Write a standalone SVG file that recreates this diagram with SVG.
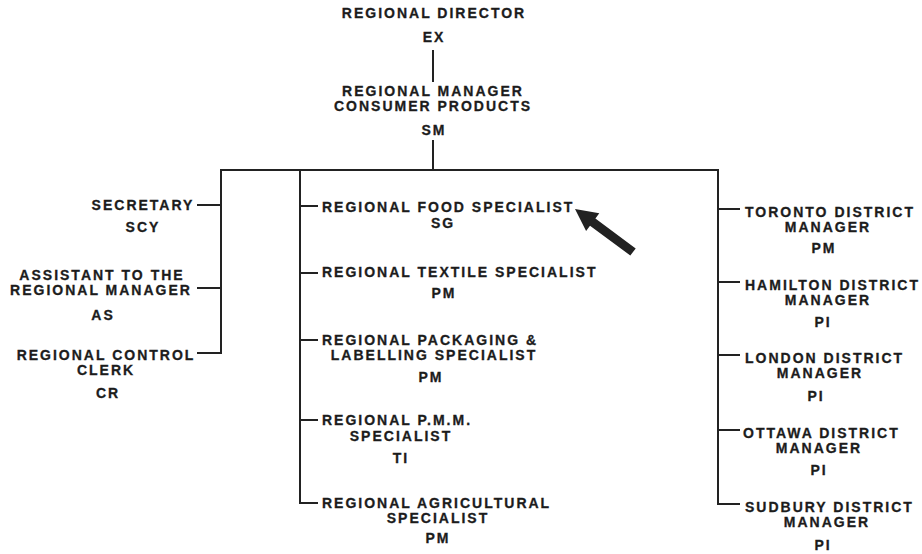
<svg xmlns="http://www.w3.org/2000/svg" width="922" height="554" viewBox="0 0 922 554">
<style>
text{font-family:"Liberation Sans",Arial,sans-serif;font-weight:bold;font-size:14px;letter-spacing:2px;fill:#1c1c1c;stroke:#1c1c1c;stroke-width:0.3px}
.m{text-anchor:middle}
.c line,.c path{stroke:#222;stroke-width:2;fill:none}
</style>
<rect width="922" height="554" fill="#fff"/>
<g class="c" id="connectors">
<line x1="433" y1="50" x2="433" y2="82"/>
<line x1="433" y1="140" x2="433" y2="170"/>
<line x1="220" y1="170" x2="719" y2="170"/>
<path d="M221 170V353H197"/>
<line x1="197" y1="205" x2="221" y2="205"/>
<line x1="197" y1="288" x2="221" y2="288"/>
<path d="M300 170V503H318"/>
<line x1="300" y1="206" x2="318" y2="206"/>
<line x1="300" y1="273" x2="318" y2="273"/>
<line x1="300" y1="340" x2="318" y2="340"/>
<line x1="300" y1="420" x2="318" y2="420"/>
<path d="M718 170V504H740"/>
<line x1="718" y1="209" x2="740" y2="209"/>
<line x1="718" y1="282" x2="740" y2="282"/>
<line x1="718" y1="355" x2="740" y2="355"/>
<line x1="718" y1="430" x2="740" y2="430"/>
</g>
<g id="n-director"><text class="m" x="434" y="18">REGIONAL DIRECTOR</text><text class="m" x="434" y="42">EX</text></g>
<g id="n-manager"><text class="m" x="433" y="96">REGIONAL MANAGER</text><text class="m" x="433" y="111">CONSUMER PRODUCTS</text><text class="m" x="434" y="135">SM</text></g>
<g id="n-secretary"><text class="m" x="143" y="210">SECRETARY</text><text class="m" x="143" y="232">SCY</text></g>
<g id="n-assistant"><text class="m" x="102" y="280">ASSISTANT TO THE</text><text class="m" x="101" y="295">REGIONAL MANAGER</text><text class="m" x="103" y="320">AS</text></g>
<g id="n-clerk"><text class="m" x="106" y="360">REGIONAL CONTROL</text><text class="m" x="106" y="375">CLERK</text><text class="m" x="108" y="398">CR</text></g>
<g id="n-food"><text x="322" y="212">REGIONAL FOOD SPECIALIST</text><text class="m" x="443" y="228">SG</text></g>
<g id="n-textile"><text x="322" y="277">REGIONAL TEXTILE SPECIALIST</text><text class="m" x="444" y="298">PM</text></g>
<g id="n-packaging"><text x="322" y="345">REGIONAL PACKAGING &amp;</text><text class="m" x="434" y="360">LABELLING SPECIALIST</text><text class="m" x="431" y="382">PM</text></g>
<g id="n-pmm"><text x="322" y="425">REGIONAL P.M.M.</text><text class="m" x="401" y="441">SPECIALIST</text><text class="m" x="401" y="463">TI</text></g>
<g id="n-agri"><text x="322" y="508">REGIONAL AGRICULTURAL</text><text class="m" x="438" y="523">SPECIALIST</text><text class="m" x="438" y="543">PM</text></g>
<g id="n-toronto"><text x="745" y="217">TORONTO DISTRICT</text><text class="m" x="828" y="232">MANAGER</text><text class="m" x="824" y="253">PM</text></g>
<g id="n-hamilton"><text x="745" y="290">HAMILTON DISTRICT</text><text class="m" x="828" y="305">MANAGER</text><text class="m" x="823" y="327">PI</text></g>
<g id="n-london"><text x="745" y="363">LONDON DISTRICT</text><text class="m" x="820" y="378">MANAGER</text><text class="m" x="816" y="401">PI</text></g>
<g id="n-ottawa"><text x="743" y="438">OTTAWA DISTRICT</text><text class="m" x="819" y="453">MANAGER</text><text class="m" x="819" y="475">PI</text></g>
<g id="n-sudbury"><text x="745" y="512">SUDBURY DISTRICT</text><text class="m" x="827" y="527">MANAGER</text><text class="m" x="823" y="550">PI</text></g>
<g id="pointer"><polygon points="575,209 599.3,213.2 595.4,218.5 635.7,248.4 630.3,255.6 590,225.7 586.1,231" fill="#222"/></g>
</svg>
